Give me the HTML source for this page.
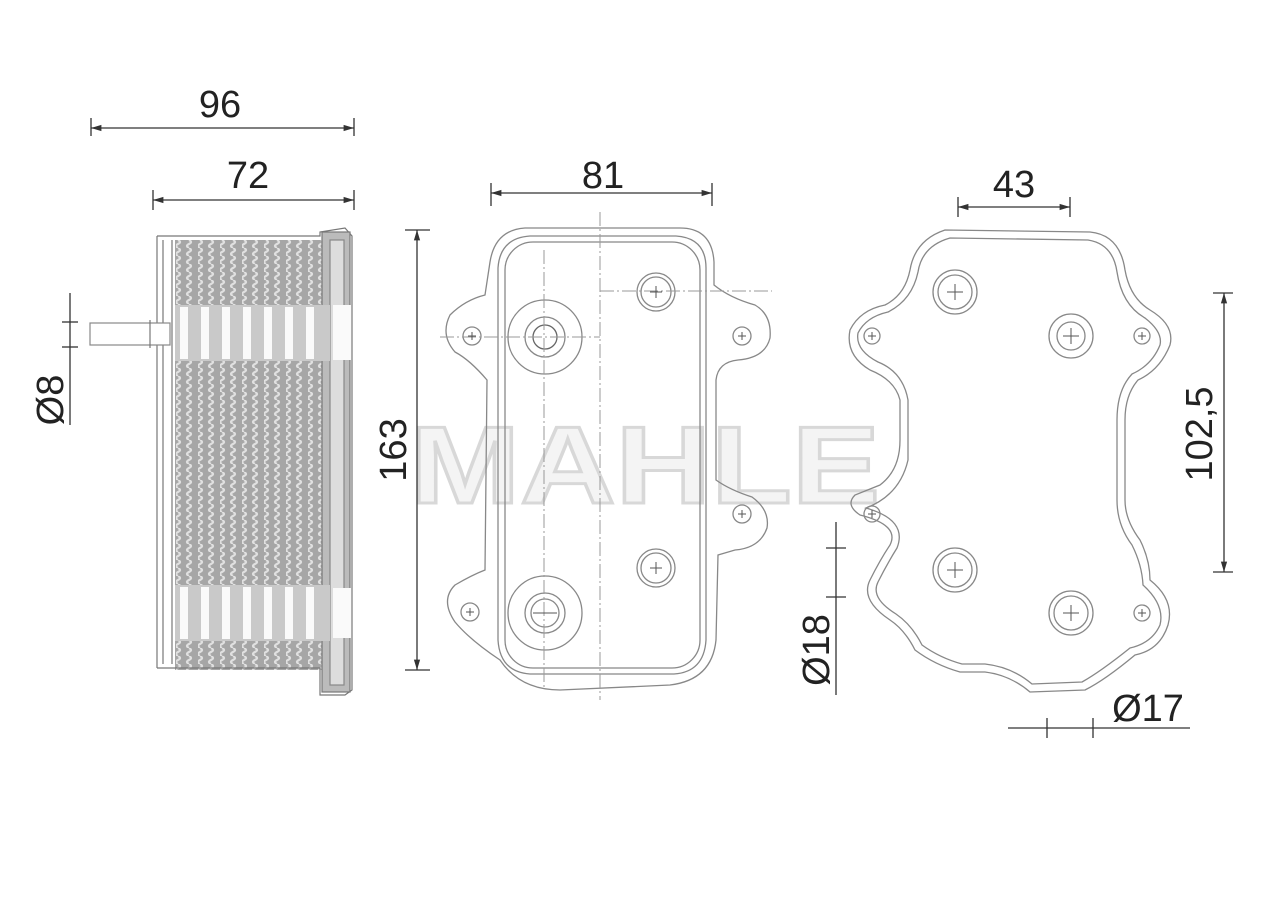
<!DOCTYPE html>
<html><head><meta charset="utf-8"><style>
html,body{margin:0;padding:0;background:#fff;}
svg{display:block;}
text{font-family:"Liberation Sans",sans-serif;fill:#222;}
</style></head><body>
<svg width="1280" height="901" viewBox="0 0 1280 901" xmlns="http://www.w3.org/2000/svg">
<defs>
<marker id="a" viewBox="0 0 10 10" refX="10" refY="5" markerWidth="8" markerHeight="8" orient="auto-start-reverse"><path d="M0,2 L10,5 L0,8" fill="#333"/></marker>
<pattern id="fin" width="22" height="8" patternUnits="userSpaceOnUse">
<rect width="22" height="8" fill="#a6a6a6"/>
<path d="M2,0 q4,2 0,4 q-4,2 0,4 M13,0 q4,2 0,4 q-4,2 0,4" stroke="#e0e0e0" stroke-width="2.2" fill="none"/>
</pattern>
</defs>

<!-- watermark -->
<text x="645" y="503" font-size="110" font-weight="bold" text-anchor="middle" fill="none" stroke="#d8d8d8" stroke-width="3" style="fill:#f4f4f4" textLength="470" lengthAdjust="spacingAndGlyphs">MAHLE</text>

<g stroke="#333" stroke-width="1.3" fill="none">
<!-- 96 -->
<line x1="91" y1="128" x2="354" y2="128" marker-start="url(#a)" marker-end="url(#a)"/>
<line x1="91" y1="118" x2="91" y2="136"/><line x1="354" y1="118" x2="354" y2="136"/>
<!-- 72 -->
<line x1="153" y1="200" x2="354" y2="200" marker-start="url(#a)" marker-end="url(#a)"/>
<line x1="153" y1="190" x2="153" y2="210"/><line x1="354" y1="190" x2="354" y2="210"/>
<!-- 81 -->
<line x1="491" y1="193" x2="712" y2="193" marker-start="url(#a)" marker-end="url(#a)"/>
<line x1="491" y1="183" x2="491" y2="206"/><line x1="712" y1="183" x2="712" y2="206"/>
<!-- 43 -->
<line x1="958" y1="207" x2="1070" y2="207" marker-start="url(#a)" marker-end="url(#a)"/>
<line x1="958" y1="197" x2="958" y2="217"/><line x1="1070" y1="197" x2="1070" y2="217"/>
<!-- 163 -->
<line x1="417" y1="230" x2="417" y2="670" marker-start="url(#a)" marker-end="url(#a)"/>
<line x1="405" y1="230" x2="430" y2="230"/><line x1="405" y1="670" x2="430" y2="670"/>
<!-- 102,5 -->
<line x1="1224" y1="293" x2="1224" y2="572" marker-start="url(#a)" marker-end="url(#a)"/>
<line x1="1213" y1="293" x2="1233" y2="293"/><line x1="1213" y1="572" x2="1233" y2="572"/>
<!-- Ø8 -->
<line x1="70" y1="293" x2="70" y2="425"/>
<line x1="62" y1="322" x2="78" y2="322"/><line x1="62" y1="347" x2="78" y2="347"/>
<!-- Ø18 -->
<line x1="836" y1="522" x2="836" y2="695"/>
<line x1="826" y1="548" x2="846" y2="548"/><line x1="826" y1="597" x2="846" y2="597"/>
<!-- Ø17 -->
<line x1="1008" y1="728" x2="1190" y2="728"/>
<line x1="1047" y1="718" x2="1047" y2="738"/><line x1="1093" y1="718" x2="1093" y2="738"/>
</g>

<text x="220" y="117" font-size="38" text-anchor="middle">96</text>
<text x="248" y="188" font-size="38" text-anchor="middle">72</text>
<text x="603" y="188" font-size="38" text-anchor="middle">81</text>
<text x="1014" y="197" font-size="38" text-anchor="middle">43</text>
<text x="1148" y="721" font-size="38" text-anchor="middle">Ø17</text>
<text transform="translate(406,450) rotate(-90)" font-size="38" text-anchor="middle">163</text>
<text transform="translate(1212,434) rotate(-90)" font-size="38" text-anchor="middle">102,5</text>
<text transform="translate(63,400) rotate(-90)" font-size="38" text-anchor="middle">Ø8</text>
<text transform="translate(829,650) rotate(-90)" font-size="38" text-anchor="middle">Ø18</text>

<!-- LEFT side view -->
<g stroke="#777" stroke-width="1.2" fill="none">
<rect x="175" y="240" width="148" height="430" fill="url(#fin)" stroke="none"/>
<path d="M157,236 L320,236 L320,232 L345,228 L352,236 L352,690 L345,695 L320,695 L320,668 L157,668" />
<rect x="322" y="232" width="28" height="460" fill="#bbb" stroke="#777"/>
<rect x="330" y="240" width="14" height="445" fill="#ddd" stroke="#888"/>
<line x1="157" y1="236" x2="157" y2="668"/>
<line x1="163" y1="240" x2="163" y2="664"/>
<line x1="172" y1="240" x2="172" y2="664"/>
<rect x="90" y="323" width="80" height="22" fill="#fff" stroke="#888"/>
<line x1="150" y1="320" x2="150" y2="348"/>
</g>
<g fill="#f2f2f2">
<rect x="175" y="305" width="155" height="56" fill="#c9c9c9"/>
<rect x="175" y="585" width="155" height="56" fill="#c9c9c9"/>
</g>
<g fill="#fafafa">
<rect x="180" y="307" width="8" height="52"/><rect x="201" y="307" width="8" height="52"/><rect x="222" y="307" width="8" height="52"/><rect x="243" y="307" width="8" height="52"/><rect x="264" y="307" width="8" height="52"/><rect x="285" y="307" width="8" height="52"/><rect x="306" y="307" width="8" height="52"/>
<rect x="180" y="587" width="8" height="52"/><rect x="201" y="587" width="8" height="52"/><rect x="222" y="587" width="8" height="52"/><rect x="243" y="587" width="8" height="52"/><rect x="264" y="587" width="8" height="52"/><rect x="285" y="587" width="8" height="52"/><rect x="306" y="587" width="8" height="52"/>
<rect x="333" y="305" width="18" height="55"/><rect x="333" y="588" width="18" height="50"/>
</g>

<!-- MIDDLE view -->
<g stroke="#888" stroke-width="1.3" fill="none">
<path d="M525,228 L680,228 Q712,228 714,262 L714,285 Q730,298 755,305 Q772,315 770,338 Q765,358 738,360 Q718,362 716,380 L716,480 Q730,490 752,497 Q770,510 767,528 Q760,548 735,550 L718,555 L716,640 Q712,680 670,685 L560,690 Q520,690 500,660 Q470,640 455,622 Q440,600 455,585 Q472,575 485,570 L487,380 Q470,360 455,352 Q440,335 450,315 Q465,300 485,295 L490,262 Q495,230 525,228 Z"/>
<path d="M530,236 L676,236 Q706,238 706,268 L706,640 Q704,672 674,674 L530,674 Q500,672 498,640 L498,268 Q500,238 530,236 Z"/>
<rect x="505" y="242" width="195" height="426" rx="28"/>
<circle cx="545" cy="337" r="37"/><circle cx="545" cy="337" r="20"/><circle cx="545" cy="337" r="12" stroke="#666"/>
<circle cx="545" cy="613" r="37"/><circle cx="545" cy="613" r="20"/><circle cx="545" cy="613" r="14"/>
<circle cx="656" cy="292" r="19"/><circle cx="656" cy="292" r="15"/>
<circle cx="656" cy="568" r="19"/><circle cx="656" cy="568" r="15"/>
<circle cx="472" cy="336" r="9"/><circle cx="742" cy="336" r="9"/>
<circle cx="742" cy="514" r="9"/><circle cx="470" cy="612" r="9"/>
</g>
<g stroke="#999" stroke-width="1" stroke-dasharray="14,3,2,3" fill="none">
<line x1="600" y1="212" x2="600" y2="700"/>
<line x1="544" y1="250" x2="544" y2="690"/>
<line x1="440" y1="337" x2="600" y2="337"/>
<line x1="600" y1="291" x2="772" y2="291"/>
</g>

<!-- RIGHT view -->
<g stroke="#888" stroke-width="1.3" fill="none">
<path d="M945,230 L1090,232 Q1120,235 1125,270 Q1130,298 1150,310 Q1175,325 1170,345 Q1160,370 1138,380 Q1125,395 1125,420 L1125,500 Q1125,520 1140,540 Q1150,560 1150,580 Q1175,600 1168,625 Q1160,650 1135,655 Q1105,680 1085,690 L1030,692 Q1010,675 985,672 L960,672 Q935,665 915,650 Q905,630 890,620 Q860,600 870,580 Q880,560 890,545 Q900,525 860,515 Q845,505 855,495 L880,485 Q900,470 900,440 L900,400 Q895,380 870,370 Q845,355 850,330 Q860,310 885,305 Q905,295 910,270 Q915,240 945,230 Z"/>
<path d="M950,238 L1088,240 Q1113,244 1117,272 Q1122,305 1145,318 Q1163,332 1160,345 Q1152,365 1132,374 Q1117,390 1117,420 L1117,500 Q1117,525 1132,545 Q1142,565 1143,585 Q1165,605 1160,625 Q1152,643 1130,648 Q1100,672 1082,682 L1032,684 Q1012,667 985,664 L962,664 Q940,658 922,645 Q912,625 896,614 Q870,598 878,582 Q887,564 897,548 Q908,520 866,508 Q900,495 908,460 L908,400 Q903,372 878,362 Q855,350 858,333 Q866,317 888,312 Q912,300 918,272 Q922,246 950,238 Z"/>
<circle cx="955" cy="292" r="22"/><circle cx="955" cy="292" r="17"/>
<circle cx="955" cy="570" r="22"/><circle cx="955" cy="570" r="17"/>
<circle cx="1071" cy="336" r="22"/><circle cx="1071" cy="336" r="14"/>
<circle cx="1071" cy="613" r="22"/><circle cx="1071" cy="613" r="17"/>
<circle cx="872" cy="336" r="8"/><circle cx="1142" cy="336" r="8"/>
<circle cx="872" cy="514" r="8"/><circle cx="1142" cy="613" r="8"/>
</g>
<g stroke="#555" stroke-width="1">
<path d="M947,292 h16 M955,284 v16 M947,570 h16 M955,562 v16 M1063,336 h16 M1071,328 v16 M1063,613 h16 M1071,605 v16 M868,336 h8 M872,332 v8 M1138,336 h8 M1142,332 v8 M868,514 h8 M872,510 v8 M1138,613 h8 M1142,609 v8"/>
<path d="M650,292 h12 M656,286 v12 M650,568 h12 M656,562 v12 M468,336 h8 M472,332 v8 M738,336 h8 M742,332 v8 M738,514 h8 M742,510 v8 M466,612 h8 M470,608 v8 M533,613 h24"/>
</g>
</svg>
</body></html>
